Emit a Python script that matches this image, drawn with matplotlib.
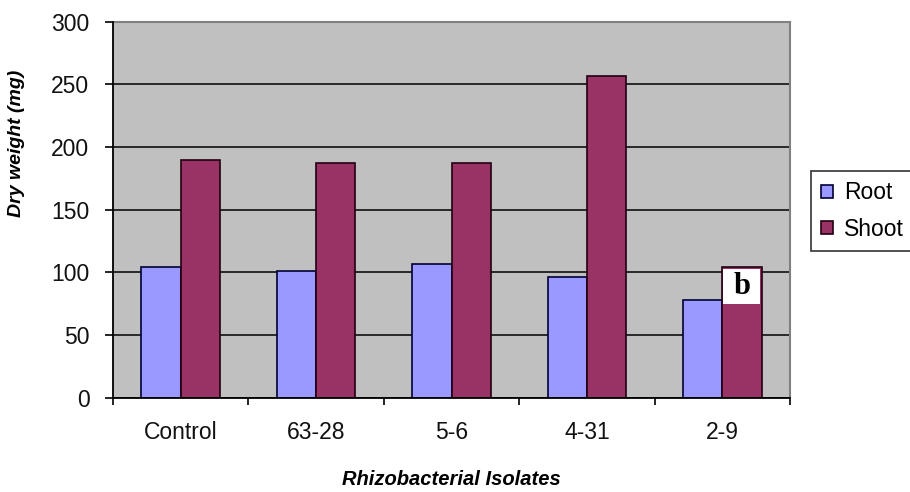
import matplotlib
matplotlib.use("Agg")
import matplotlib.pyplot as plt
from matplotlib.patches import Rectangle
import numpy as np

plt.rcParams['font.family'] = ['Liberation Sans', 'DejaVu Sans']

isolates = ["Control", "63-28", "5-6", "4-31", "2-9"]
root = [104, 101, 107, 96, 78]
shoot = [190, 187, 187, 257, 104]
y_ticks = [0, 50, 100, 150, 200, 250, 300]
annotation_text = "b"
annotation_index = 4

root_color = "#9999FF"
shoot_color = "#993366"
plot_bg = "#C0C0C0"

fig = plt.figure(figsize=(9.10, 4.92), dpi=100)
ax = fig.add_axes([113 / 910, 94.3 / 492, 677 / 910, 376 / 492])
ax.set_facecolor(plot_bg)

x = np.arange(len(isolates))
w = 0.29
ax.bar(x - w / 2, root, width=w, color=root_color, edgecolor="#000033",
       linewidth=1.2, label="Root", zorder=3)
bars_shoot = ax.bar(x + w / 2, shoot, width=w, color=shoot_color,
                    edgecolor="#220011", linewidth=1.2, label="Shoot", zorder=3)

ax.set_xlim(-0.5, len(isolates) - 0.5)
ax.set_ylim(0, 300)
ax.set_yticks(y_ticks)
ax.yaxis.grid(True, color="black", linewidth=1.1, zorder=1)
ax.set_axisbelow(True)

# category boundary ticks on the x axis, names centred between them
ax.set_xticks(np.arange(len(isolates) + 1) - 0.5)
ax.set_xticklabels([])
ax.set_xticks(x, minor=True)
ax.set_xticklabels(isolates, minor=True, fontsize=16.5, color="#111111")
ax.tick_params(axis="x", which="minor", length=0, pad=17)
ax.tick_params(axis="x", which="major", length=5, width=1.2, direction="out")
ax.tick_params(axis="y", length=6, width=1.2, pad=11, labelsize=16.5,
               labelcolor="#111111")

for side in ["top", "right"]:
    ax.spines[side].set_color("#808080")
    ax.spines[side].set_linewidth(1.5)
for side in ["left", "bottom"]:
    ax.spines[side].set_color("black")
    ax.spines[side].set_linewidth(1.3)
    ax.spines[side].set_zorder(4)

ax.set_xlabel("Rhizobacterial Isolates", fontsize=14.5, fontweight="bold",
              fontstyle="italic")
ax.xaxis.set_label_coords(0.5, -0.192)
ax.set_ylabel("Dry weight (mg)", fontsize=14, fontweight="bold",
              fontstyle="italic")
ax.yaxis.set_label_coords(-0.13, 0.677)

# white letter box set into the top of the 2-9 shoot bar
bar = bars_shoot[annotation_index]
box_h = 28
ax.add_patch(Rectangle((bar.get_x() + 0.006, shoot[annotation_index] - box_h - 1),
                       bar.get_width() - 0.018, box_h, facecolor="white",
                       edgecolor="none", zorder=4))
ax.text(bar.get_x() + bar.get_width() / 2, shoot[annotation_index] - 1 - box_h / 2,
        annotation_text, ha="center", va="center", fontsize=22, fontweight="bold",
        family=["Liberation Serif", "DejaVu Serif"], zorder=5)

leg = ax.legend(loc="upper left", bbox_to_anchor=(811 / 910, 1 - 171 / 492),
                bbox_transform=fig.transFigure, fontsize=16.5, frameon=True,
                fancybox=False, edgecolor="black", handlelength=0.5,
                handleheight=0.5, handletextpad=0.5, labelspacing=0.6,
                borderpad=0.45, borderaxespad=0)
leg.get_frame().set_linewidth(1.2)

fig.savefig("out.png", dpi=100, facecolor="white")
